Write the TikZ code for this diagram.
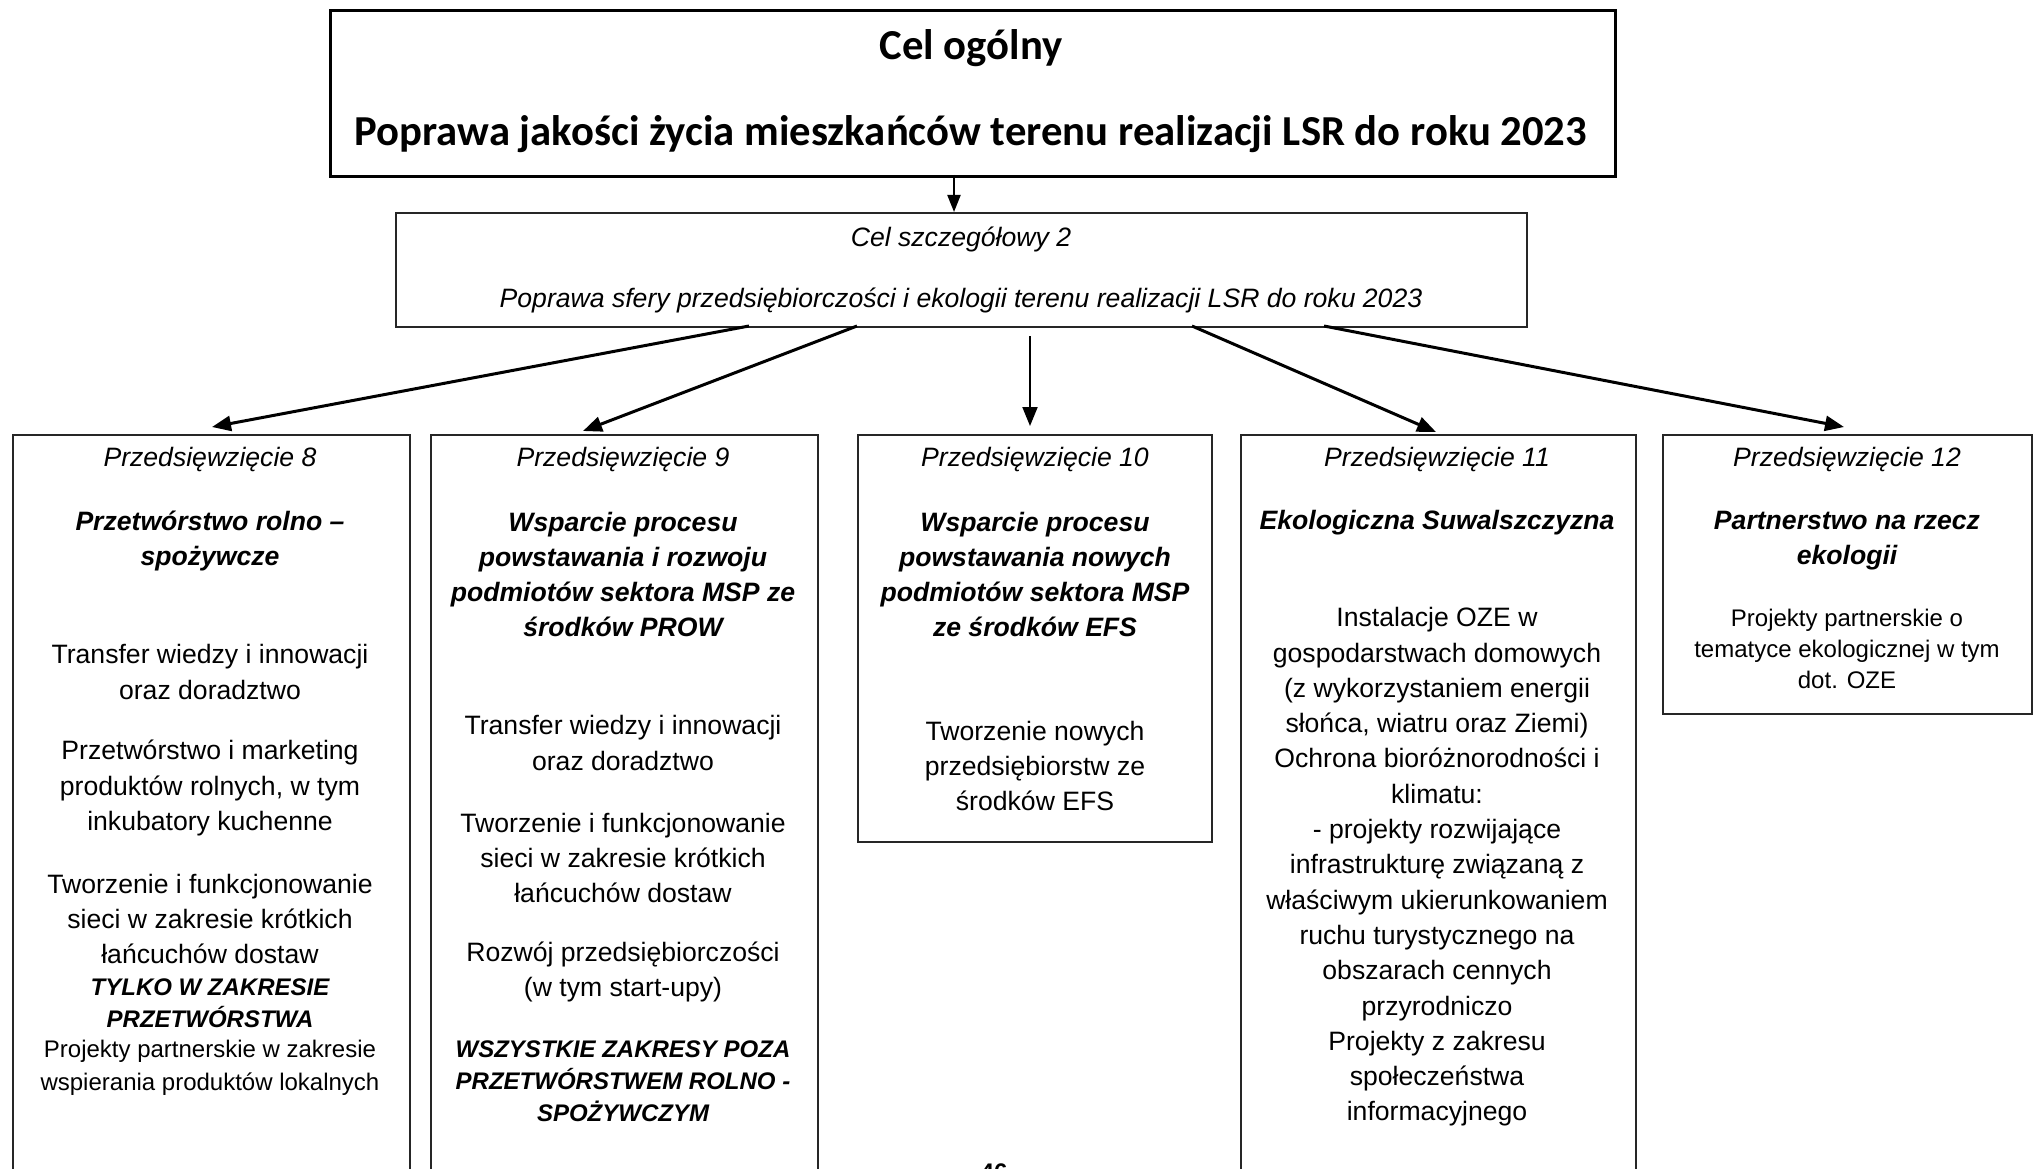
\documentclass[tikz,border=0pt]{standalone}
\usepackage{fontspec}
\setmainfont{Liberation Sans}
\newfontfamily\titlefont{Carlito}
\usetikzlibrary{arrows.meta}
\begin{document}
\begin{tikzpicture}[x=1pt,y=-1pt,
  box/.style={draw=black!85, line width=1.5pt, rectangle, inner sep=0pt, anchor=north west},
  txt/.style={align=center, inner sep=0pt, font=\fontsize{26.6}{35.3}\selectfont},
  hdr/.style={align=center, inner sep=0pt, font=\fontsize{26.6}{35}\selectfont\itshape},
  bit/.style={align=center, inner sep=0pt, font=\fontsize{26.6}{35}\selectfont\bfseries\itshape},
  sbit/.style={align=center, inner sep=0pt, font=\fontsize{24}{32}\selectfont\bfseries\itshape},
  small/.style={align=center, inner sep=0pt, font=\fontsize{24}{33}\selectfont},
  conn/.style={line width=3pt, -{Triangle[length=19pt,width=15pt]}},
  ttl/.style={inner sep=0pt, font=\fontsize{42.7}{50}\selectfont\titlefont\bfseries}]
\useasboundingbox (0,0) rectangle (2036,1169);
\clip (0,0) rectangle (2036,1169);
\fill[white] (0,0) rectangle (2036,1169);

% top box
\node[box, line width=3pt, draw=black, minimum width=1285pt, minimum height=166pt] (top) at (329,9) {};
\node[ttl] (t1) at (971,48) {Cel ogólny};
\node[ttl] (t2) at (971,134) {Poprawa jakości życia mieszkańców terenu realizacji LSR do roku 2023};

% cel szczegolowy
\node[box, minimum width=1131pt, minimum height=114pt] (cel) at (395,212) {};
\node[hdr] (c2a) at (961,239) {Cel szczegółowy 2};
\node[hdr] (c2b) at (961,300) {Poprawa sfery przedsiębiorczości i ekologii terenu realizacji LSR do roku 2023};

% boxes
\node[box, minimum width=397pt, minimum height=760pt] (b8) at (12,434) {};
\node[box, minimum width=387pt, minimum height=760pt] (b9) at (430,434) {};
\node[box, minimum width=354pt, minimum height=407pt] (b10) at (857,434) {};
\node[box, minimum width=395pt, minimum height=760pt] (b11) at (1240,434) {};
\node[box, minimum width=369pt, minimum height=279pt] (b12) at (1662,434) {};

% box 8
\node[hdr] (p8h) at (210,460) {Przedsięwzięcie 8};
\node[bit] (p8t) at (210,541) {Przetwórstwo rolno –\\spożywcze};
\node[txt] (p8a) at (210,672) {Transfer wiedzy i innowacji\\oraz doradztwo};
\node[txt] (p8b) at (210,788) {Przetwórstwo i marketing\\produktów rolnych, w tym\\inkubatory kuchenne};
\node[txt] (p8c) at (210,919) {Tworzenie i funkcjonowanie\\sieci w zakresie krótkich\\łańcuchów dostaw};
\node[sbit] (p8d) at (210,1003) {TYLKO W ZAKRESIE\\PRZETWÓRSTWA};
\node[small] (p8e) at (210,1068) {Projekty partnerskie w zakresie\\wspierania produktów lokalnych};

% box 9
\node[hdr] (p9h) at (623,460) {Przedsięwzięcie 9};
\node[bit] (p9t) at (623,574.5) {Wsparcie procesu\\powstawania i rozwoju\\podmiotów sektora MSP ze\\środków PROW};
\node[txt] (p9a) at (623,743) {Transfer wiedzy i innowacji\\oraz doradztwo};
\node[txt] (p9b) at (623,858) {Tworzenie i funkcjonowanie\\sieci w zakresie krótkich\\łańcuchów dostaw};
\node[txt] (p9c) at (623,972) {Rozwój przedsiębiorczości\\(w tym start-upy)};
\node[sbit] (p9d) at (623,1081) {WSZYSTKIE ZAKRESY POZA\\PRZETWÓRSTWEM ROLNO -\\SPOŻYWCZYM};

% box 10
\node[hdr] (p10h) at (1035,460) {Przedsięwzięcie 10};
\node[bit] (p10t) at (1035,574.5) {Wsparcie procesu\\powstawania nowych\\podmiotów sektora MSP\\ze środków EFS};
\node[txt] (p10a) at (1035,766) {Tworzenie nowych\\przedsiębiorstw ze\\środków EFS};

% box 11
\node[hdr] (p11h) at (1437,460) {Przedsięwzięcie 11};
\node[bit] (p11t) at (1437,523) {Ekologiczna Suwalszczyzna};
\node[txt] (p11a) at (1437,867) {Instalacje OZE w\\gospodarstwach domowych\\(z wykorzystaniem energii\\słońca, wiatru oraz Ziemi)\\Ochrona bioróżnorodności i\\klimatu:\\- projekty rozwijające\\infrastrukturę związaną z\\właściwym ukierunkowaniem\\ruchu turystycznego na\\obszarach cennych\\przyrodniczo\\Projekty z zakresu\\społeczeństwa\\informacyjnego};

% box 12
\node[hdr] (p12h) at (1847,460) {Przedsięwzięcie 12};
\node[bit] (p12t) at (1847,541) {Partnerstwo na rzecz\\ekologii};
\node[small, font=\fontsize{24}{31}\selectfont] (p12a) at (1847,649) {Projekty partnerskie o\\tematyce ekologicznej w tym\\dot. OZE};

% page number (cut off by the page edge, as in the reference)
\node[inner sep=0pt, font=\fontsize{24}{28}\selectfont\bfseries] (pg) at (994,1172) {46};

% connectors
\coordinate (ts) at (954,175);
\coordinate (s8) at (749,326);
\coordinate (s9) at (857,326);
\coordinate (s10) at (1030,336);
\coordinate (s11) at (1192,326);
\coordinate (s12) at (1324,326);
\coordinate (e8) at (212,427);
\coordinate (e9) at (583,431);
\coordinate (e10) at (1030,426);
\coordinate (e11) at (1436,432);
\coordinate (e12) at (1844,427);
\draw[line width=2pt, -{Triangle[length=17pt,width=13pt]}] (ts) -- (ts |- cel.north);
\draw[conn] (s8) -- (e8);
\draw[conn] (s9) -- (e9);
\draw[conn, line width=2pt] (s10) -- (e10);
\draw[conn] (s11) -- (e11);
\draw[conn] (s12) -- (e12);
\end{tikzpicture}
\end{document}
